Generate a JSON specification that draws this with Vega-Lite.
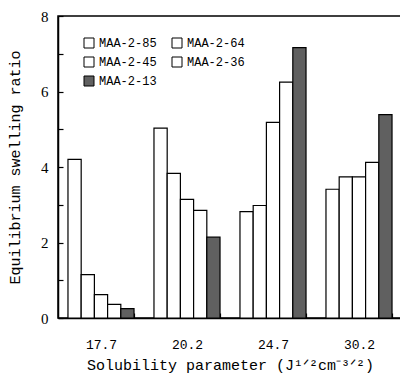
{
  "$schema": "https://vega.github.io/schema/vega-lite/v6.json",
  "autosize": {"type": "none"},
  "padding": {"left": 58, "top": 16, "right": 0, "bottom": 65},
  "width": 344,
  "height": 302,
  "background": "white",
  "config": {
    "view": {"stroke": "black", "strokeWidth": 1.5},
    "axis": {"grid": false, "domainColor": "black", "domainWidth": 1.5, "tickColor": "black", "tickWidth": 1.2, "labelColor": "black", "titleColor": "black", "titleFontWeight": "normal"}
  },
  "data": {
    "values": [
      {"sp": "17.7", "sample": "MAA-2-85", "ratio": 4.2},
      {"sp": "17.7", "sample": "MAA-2-64", "ratio": 1.15},
      {"sp": "17.7", "sample": "MAA-2-45", "ratio": 0.62},
      {"sp": "17.7", "sample": "MAA-2-36", "ratio": 0.36},
      {"sp": "17.7", "sample": "MAA-2-13", "ratio": 0.25},
      {"sp": "20.2", "sample": "MAA-2-85", "ratio": 5.03},
      {"sp": "20.2", "sample": "MAA-2-64", "ratio": 3.83},
      {"sp": "20.2", "sample": "MAA-2-45", "ratio": 3.14},
      {"sp": "20.2", "sample": "MAA-2-36", "ratio": 2.85},
      {"sp": "20.2", "sample": "MAA-2-13", "ratio": 2.14},
      {"sp": "24.7", "sample": "MAA-2-85", "ratio": 2.82},
      {"sp": "24.7", "sample": "MAA-2-64", "ratio": 2.98},
      {"sp": "24.7", "sample": "MAA-2-45", "ratio": 5.18},
      {"sp": "24.7", "sample": "MAA-2-36", "ratio": 6.25},
      {"sp": "24.7", "sample": "MAA-2-13", "ratio": 7.16},
      {"sp": "30.2", "sample": "MAA-2-85", "ratio": 3.41},
      {"sp": "30.2", "sample": "MAA-2-64", "ratio": 3.74},
      {"sp": "30.2", "sample": "MAA-2-45", "ratio": 3.74},
      {"sp": "30.2", "sample": "MAA-2-36", "ratio": 4.12},
      {"sp": "30.2", "sample": "MAA-2-13", "ratio": 5.39}
    ]
  },
  "mark": {"type": "bar", "stroke": "black", "strokeWidth": 1.2},
  "encoding": {
    "x": {
      "field": "sp", "type": "nominal", "sort": ["17.7", "20.2", "24.7", "30.2"],
      "scale": {"paddingInner": 0.232, "paddingOuter": 0.116},
      "axis": {
        "labelAngle": 0, "tickBand": "extent", "tickSize": -5, "labelPadding": 25,
        "labelFont": "Liberation Mono", "labelFontSize": 13,
        "title": "Solubility parameter (J¹ᐟ²cm⁻³ᐟ²)",
        "titleFont": "Liberation Mono", "titleFontSize": 15, "titlePadding": 6
      }
    },
    "xOffset": {
      "field": "sample", "type": "nominal",
      "sort": ["MAA-2-85", "MAA-2-64", "MAA-2-45", "MAA-2-36", "MAA-2-13"],
      "scale": {"paddingInner": 0, "paddingOuter": 0}
    },
    "y": {
      "field": "ratio", "type": "quantitative",
      "scale": {"domain": [0, 8], "nice": false},
      "axis": {
        "values": [0, 1, 2, 3, 4, 5, 6, 7, 8],
        "labelExpr": "datum.value % 2 === 0 ? datum.label : ''",
        "tickSize": -5, "labelPadding": 15,
        "labelFont": "Liberation Serif", "labelFontSize": 15,
        "title": "Equilibrium swelling ratio",
        "titleFont": "Liberation Mono", "titleFontSize": 15, "titlePadding": 18
      }
    },
    "fill": {
      "field": "sample", "type": "nominal",
      "sort": ["MAA-2-85", "MAA-2-64", "MAA-2-45", "MAA-2-36", "MAA-2-13"],
      "scale": {"range": ["white", "white", "white", "white", "#606060"]},
      "legend": {
        "title": null, "orient": "none", "legendX": 25, "legendY": 21,
        "direction": "horizontal", "columns": 2, "columnPadding": 13, "rowPadding": 5, "padding": 0,
        "symbolType": "square", "symbolSize": 100, "symbolStrokeColor": "black", "symbolStrokeWidth": 1,
        "labelFont": "Liberation Mono", "labelFontSize": 12, "labelColor": "black", "labelOffset": 4
      }
    }
  }
}
